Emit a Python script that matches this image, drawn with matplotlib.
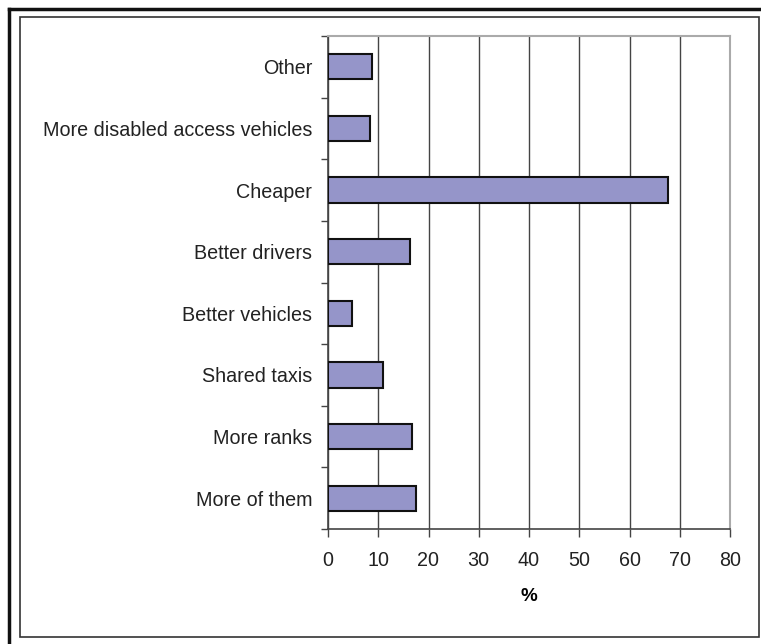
import matplotlib
matplotlib.use("Agg")
import matplotlib.pyplot as plt
from matplotlib.patches import Rectangle
from matplotlib.lines import Line2D

categories = ["More of them", "More ranks", "Shared taxis", "Better vehicles",
              "Better drivers", "Cheaper", "More disabled access vehicles", "Other"]
percent = [17.5, 16.7, 10.9, 4.8, 16.3, 67.6, 8.4, 8.7]
x_ticks = [0, 10, 20, 30, 40, 50, 60, 70, 80]

plt.rcParams["font.family"] = ["Liberation Sans", "DejaVu Sans"]

W, H = 761, 644
fig = plt.figure(figsize=(W / 100, H / 100), dpi=100)
ax = fig.add_axes([328 / W, 1 - 529 / H, (730 - 328) / W, (529 - 36) / H])

ypos = list(range(len(categories)))
ax.barh(ypos, percent, height=0.41, color="#9595C9", edgecolor="#111111",
        linewidth=1.5, zorder=3)

ax.set_xlim(0, 80)
ax.set_ylim(-0.5, len(categories) - 0.5)
ax.set_xticks(x_ticks)
ax.set_xticklabels([str(t) for t in x_ticks], fontsize=14.2, color="#222222")
ax.set_yticks(ypos)
ax.set_yticklabels(categories, fontsize=14.2, color="#222222")
ax.tick_params(axis="y", length=0, pad=11.5)
ax.set_yticks([i - 0.5 for i in range(len(categories) + 1)], minor=True)
ax.tick_params(axis="y", which="minor", length=5, width=1, color="#444444")
ax.tick_params(axis="x", length=6, width=1, color="#444444", pad=9.5)

ax.grid(axis="x", color="#444444", linewidth=1, zorder=0)
ax.set_axisbelow(True)
for side in ["left", "bottom"]:
    ax.spines[side].set_color("#444444")
    ax.spines[side].set_linewidth(1.2)
for side in ["top", "right"]:
    ax.spines[side].set_color("#aaaaaa")
    ax.spines[side].set_linewidth(1.5)

ax.set_xlabel("%", fontsize=13.5, fontweight="bold", labelpad=13)

# outer frames of the figure
fig.add_artist(Line2D([9 / W, 9 / W], [0, 1 - 9 / H], transform=fig.transFigure,
                      color="#111111", linewidth=2.5))
fig.add_artist(Line2D([9 / W, 1], [1 - 9 / H, 1 - 9 / H], transform=fig.transFigure,
                      color="#111111", linewidth=2.5))
fig.add_artist(Rectangle((20 / W, 1 - 637 / H), (759 - 20) / W, (637 - 17) / H,
                         transform=fig.transFigure, fill=False,
                         edgecolor="#333333", linewidth=1.2))

fig.savefig("out.png", dpi=100)
